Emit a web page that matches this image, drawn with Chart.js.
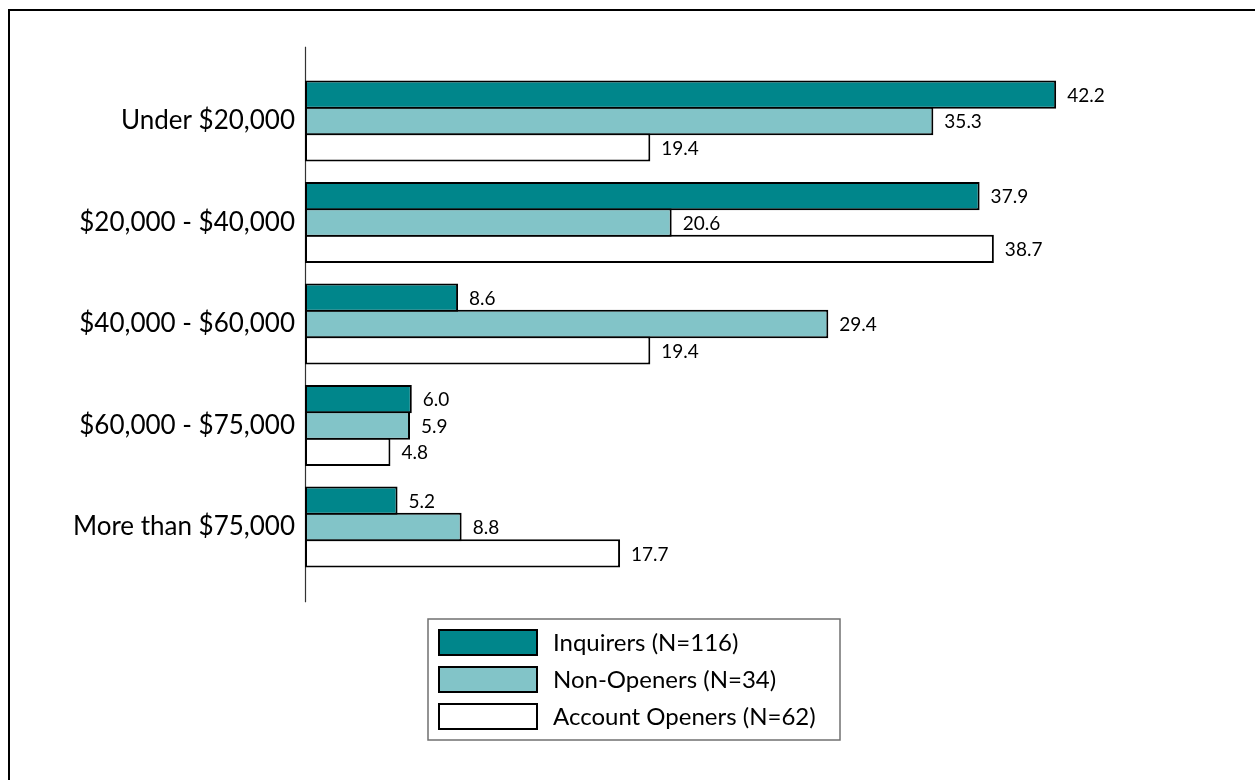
<!DOCTYPE html>
<html>
<head>
<meta charset="utf-8">
<script src="https://cdn.jsdelivr.net/npm/chart.js@4.4.1/dist/chart.umd.min.js"></script>
<style>
  html, body { margin: 0; padding: 0; background: #fff; overflow: hidden; }
  #frame { position: absolute; left: 8px; top: 9px; width: 1400px; height: 900px;
           border: 2px solid #000; box-sizing: border-box; }
  #wrap { position: absolute; left: 0; top: 0; width: 1255px; height: 780px; }
</style>
</head>
<body>
<div id="frame"></div>
<div id="wrap"><canvas id="c" width="1255" height="780"></canvas></div>
<script>
// Household income by respondent group (percent)
const categories = ['Under $20,000', '$20,000 - $40,000', '$40,000 - $60,000', '$60,000 - $75,000', 'More than $75,000'];
const inquirers = [42.2, 37.9, 8.6, 6.0, 5.2];
const nonOpeners = [35.3, 20.6, 29.4, 5.9, 8.8];
const accountOpeners = [19.4, 38.7, 19.4, 4.8, 17.7];
const seriesNames = ['Inquirers (N=116)', 'Non-Openers (N=34)', 'Account Openers (N=62)'];
const seriesColors = ['#00868b', '#82c4c8', '#ffffff'];

const FONT = 'Lato, "Open Sans", sans-serif';

// Value labels just past the end of every bar
const valueLabels = {
  id: 'valueLabels',
  afterDatasetsDraw(chart) {
    const ctx = chart.ctx;
    ctx.save();
    ctx.font = '19px ' + FONT;
    ctx.fillStyle = '#000';
    ctx.textAlign = 'left';
    ctx.textBaseline = 'middle';
    chart.data.datasets.forEach((ds, i) => {
      chart.getDatasetMeta(i).data.forEach((bar, j) => {
        ctx.fillText(ds.data[j].toFixed(1), bar.x + 11, bar.y + 1);
      });
    });
    ctx.restore();
  }
};

// Vertical category axis line, running a little past the first and last groups
const axisLine = {
  id: 'axisLine',
  beforeDatasetsDraw(chart) {
    const { ctx, chartArea } = chart;
    ctx.save();
    ctx.strokeStyle = '#333';
    ctx.lineWidth = 1.2;
    ctx.beginPath();
    ctx.moveTo(chartArea.left + 0.5, chartArea.top - 23.5);
    ctx.lineTo(chartArea.left + 0.5, chartArea.bottom + 24.5);
    ctx.stroke();
    ctx.restore();
  }
};

// Boxed legend below the plot
const boxedLegend = {
  id: 'boxedLegend',
  afterDraw(chart) {
    const ctx = chart.ctx;
    const box = { x: 428, y: 619, w: 412, h: 121 };
    ctx.save();
    ctx.strokeStyle = '#707070';
    ctx.lineWidth = 1.5;
    ctx.strokeRect(box.x, box.y, box.w, box.h);
    ctx.font = '24px ' + FONT;
    ctx.textBaseline = 'middle';
    ctx.textAlign = 'left';
    chart.data.datasets.forEach((ds, i) => {
      const sy = box.y + 10 + i * 37;
      ctx.fillStyle = ds.backgroundColor;
      ctx.fillRect(box.x + 10, sy, 100, 27);
      ctx.strokeStyle = '#000';
      ctx.lineWidth = 2;
      ctx.strokeRect(box.x + 11, sy + 1, 98, 25);
      ctx.fillStyle = '#000';
      ctx.fillText(ds.label, box.x + 125, sy + 14);
    });
    ctx.restore();
  }
};

const seriesValues = [inquirers, nonOpeners, accountOpeners];

new Chart(document.getElementById('c'), {
  type: 'bar',
  data: {
    labels: categories,
    datasets: seriesValues.map((vals, i) => ({
      label: seriesNames[i],
      data: vals,
      backgroundColor: seriesColors[i],
      borderColor: '#000',
      borderWidth: 2,
      borderSkipped: false,
      inflateAmount: 0,
      barPercentage: 1.076,
      categoryPercentage: 0.78
    }))
  },
  options: {
    indexAxis: 'y',
    responsive: false,
    animation: false,
    devicePixelRatio: 1,
    layout: { padding: { top: 70.25, bottom: 202.25, left: 0, right: 60 } },
    plugins: { legend: { display: false }, tooltip: { enabled: false } },
    scales: {
      x: { display: false, min: 0, max: 50 },
      y: {
        grid: { display: false, drawTicks: false },
        border: { display: false },
        ticks: { font: { family: FONT, size: 26 }, color: '#000', padding: 10 },
        afterFit(scale) { scale.width = 305; }
      }
    }
  },
  plugins: [axisLine, valueLabels, boxedLegend]
});
</script>
</body>
</html>
